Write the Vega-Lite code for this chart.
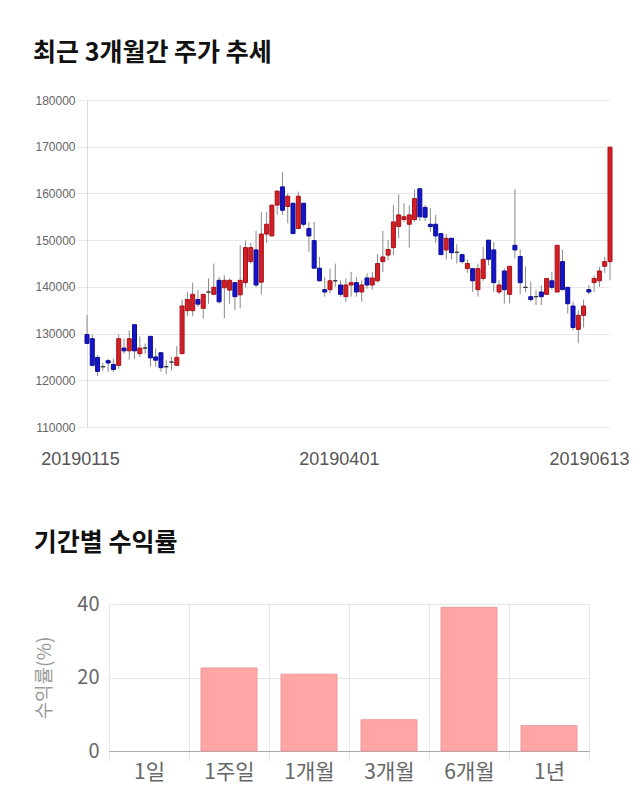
{
  "$schema": "https://vega.github.io/schema/vega-lite/v6.json",
  "background": "white",
  "padding": {"left": 31, "top": 41, "right": 5, "bottom": 5},
  "config": {"view": {"stroke": null}, "font": "Noto Sans CJK KR"},
  "spacing": 63,
  "vconcat": [
    {
      "spacing": 0,
      "hconcat": [
        {"width": 1, "height": 1, "data": {"values": []}, "mark": "rect", "encoding": {}},
        {
          "title": {"text": "최근 3개월간 주가 추세", "anchor": "start", "frame": "bounds", "fontSize": 25, "fontWeight": "bold", "color": "#111111", "offset": 28, "dx": -2},
          "width": 523,
          "height": 327,
          "data": {"values": [
            {"d":"20190115","o":129800,"h":133900,"l":127900,"c":127900},
            {"d":"20190117","o":128900,"h":129800,"l":122900,"c":123200},
            {"d":"20190118","o":124900,"h":125400,"l":120900,"c":121900},
            {"d":"20190121","o":122900,"h":123700,"l":122100,"c":122900},
            {"d":"20190122","o":124200,"h":124600,"l":121800,"c":123700},
            {"d":"20190123","o":123400,"h":124600,"l":121800,"c":122300},
            {"d":"20190124","o":123200,"h":129800,"l":122500,"c":128900},
            {"d":"20190125","o":126900,"h":128900,"l":125700,"c":126300},
            {"d":"20190128","o":126300,"h":130700,"l":124400,"c":128900},
            {"d":"20190129","o":131900,"h":131900,"l":124600,"c":126300},
            {"d":"20190130","o":125700,"h":129400,"l":125000,"c":126900},
            {"d":"20190131","o":126900,"h":127900,"l":125700,"c":126900},
            {"d":"20190201","o":129400,"h":129400,"l":122900,"c":124800},
            {"d":"20190207","o":125000,"h":126800,"l":122900,"c":124300},
            {"d":"20190208","o":125900,"h":125900,"l":121800,"c":122700},
            {"d":"20190211","o":122900,"h":124300,"l":121300,"c":122900},
            {"d":"20190212","o":123900,"h":125000,"l":122100,"c":123900},
            {"d":"20190213","o":123200,"h":127300,"l":123200,"c":124900},
            {"d":"20190214","o":125700,"h":137300,"l":125700,"c":135900},
            {"d":"20190215","o":134900,"h":138900,"l":133700,"c":137300},
            {"d":"20190218","o":134900,"h":140900,"l":133700,"c":138400},
            {"d":"20190219","o":137300,"h":139300,"l":135700,"c":136300},
            {"d":"20190220","o":135400,"h":138400,"l":133200,"c":138400},
            {"d":"20190221","o":138900,"h":141800,"l":136400,"c":138900},
            {"d":"20190222","o":138400,"h":145000,"l":138200,"c":139900},
            {"d":"20190225","o":141400,"h":142100,"l":136400,"c":136800},
            {"d":"20190226","o":139800,"h":142500,"l":133300,"c":141400},
            {"d":"20190227","o":139300,"h":141800,"l":136400,"c":141400},
            {"d":"20190228","o":140900,"h":140900,"l":135000,"c":137900},
            {"d":"20190304","o":138300,"h":148900,"l":135400,"c":141400},
            {"d":"20190305","o":140900,"h":149900,"l":139900,"c":148400},
            {"d":"20190306","o":145400,"h":149400,"l":145000,"c":148400},
            {"d":"20190307","o":147900,"h":152000,"l":139900,"c":140400},
            {"d":"20190308","o":141000,"h":156000,"l":138400,"c":151300},
            {"d":"20190311","o":151300,"h":156000,"l":149400,"c":153400},
            {"d":"20190312","o":150900,"h":157500,"l":150900,"c":157500},
            {"d":"20190313","o":157500,"h":160500,"l":155400,"c":160500},
            {"d":"20190314","o":161400,"h":164600,"l":155400,"c":156400},
            {"d":"20190315","o":157200,"h":160000,"l":153600,"c":159400},
            {"d":"20190318","o":157900,"h":157900,"l":151400,"c":151400},
            {"d":"20190319","o":152500,"h":160400,"l":152500,"c":159400},
            {"d":"20190320","o":157900,"h":157900,"l":152900,"c":153400},
            {"d":"20190321","o":152500,"h":153900,"l":147500,"c":150900},
            {"d":"20190322","o":149900,"h":153900,"l":144000,"c":144000},
            {"d":"20190325","o":144000,"h":146400,"l":141100,"c":141300},
            {"d":"20190326","o":139400,"h":142100,"l":137900,"c":138900},
            {"d":"20190327","o":139400,"h":143900,"l":138600,"c":141300},
            {"d":"20190328","o":141300,"h":145000,"l":140000,"c":141300},
            {"d":"20190329","o":140400,"h":141400,"l":137900,"c":138400},
            {"d":"20190401","o":137900,"h":141800,"l":136800,"c":140400},
            {"d":"20190402","o":140400,"h":143200,"l":137900,"c":140900},
            {"d":"20190403","o":140900,"h":142100,"l":137900,"c":138900},
            {"d":"20190404","o":138900,"h":141400,"l":136800,"c":140400},
            {"d":"20190405","o":141900,"h":142900,"l":139600,"c":140400},
            {"d":"20190408","o":140400,"h":143200,"l":139400,"c":141900},
            {"d":"20190409","o":141300,"h":147000,"l":140900,"c":145000},
            {"d":"20190410","o":145400,"h":152000,"l":143200,"c":146400},
            {"d":"20190411","o":146800,"h":150000,"l":145700,"c":148000},
            {"d":"20190412","o":148400,"h":157500,"l":146800,"c":153900},
            {"d":"20190415","o":152900,"h":159800,"l":150400,"c":155400},
            {"d":"20190416","o":154400,"h":157900,"l":153900,"c":155000},
            {"d":"20190417","o":153400,"h":157500,"l":148400,"c":155400},
            {"d":"20190418","o":154400,"h":160900,"l":153900,"c":158900},
            {"d":"20190419","o":161000,"h":161000,"l":154100,"c":155000},
            {"d":"20190422","o":157000,"h":157500,"l":154100,"c":154900},
            {"d":"20190423","o":153400,"h":156800,"l":151800,"c":152900},
            {"d":"20190424","o":153400,"h":155400,"l":149400,"c":150900},
            {"d":"20190425","o":151400,"h":151400,"l":146800,"c":146900},
            {"d":"20190426","o":147900,"h":151300,"l":145900,"c":150400},
            {"d":"20190429","o":150400,"h":150400,"l":145900,"c":147300},
            {"d":"20190430","o":147400,"h":149100,"l":145000,"c":147400},
            {"d":"20190502","o":146900,"h":146900,"l":145000,"c":145400},
            {"d":"20190503","o":143900,"h":145900,"l":143000,"c":145000},
            {"d":"20190507","o":143900,"h":143900,"l":138900,"c":141300},
            {"d":"20190508","o":139400,"h":145000,"l":137900,"c":143900},
            {"d":"20190509","o":141800,"h":148600,"l":141300,"c":145900},
            {"d":"20190510","o":150000,"h":150000,"l":144600,"c":145900},
            {"d":"20190513","o":147900,"h":149600,"l":138900,"c":140900},
            {"d":"20190514","o":138900,"h":141400,"l":138400,"c":140400},
            {"d":"20190515","o":143400,"h":143900,"l":136400,"c":139400},
            {"d":"20190516","o":138400,"h":144400,"l":136400,"c":144400},
            {"d":"20190517","o":148900,"h":160900,"l":146100,"c":147900},
            {"d":"20190520","o":146500,"h":148000,"l":138400,"c":140900},
            {"d":"20190521","o":139900,"h":144400,"l":138900,"c":139900},
            {"d":"20190522","o":137900,"h":141100,"l":136800,"c":137300},
            {"d":"20190523","o":137900,"h":139300,"l":136100,"c":137900},
            {"d":"20190524","o":138900,"h":140400,"l":136100,"c":137900},
            {"d":"20190527","o":138400,"h":141800,"l":138400,"c":141800},
            {"d":"20190528","o":141300,"h":143200,"l":139400,"c":139900},
            {"d":"20190529","o":138900,"h":148900,"l":138900,"c":148900},
            {"d":"20190530","o":145400,"h":147900,"l":139400,"c":139400},
            {"d":"20190531","o":139900,"h":139900,"l":134300,"c":136400},
            {"d":"20190603","o":135900,"h":136800,"l":130700,"c":131300},
            {"d":"20190604","o":130900,"h":135000,"l":127900,"c":133900},
            {"d":"20190605","o":133900,"h":137300,"l":131300,"c":135900},
            {"d":"20190607","o":139400,"h":140400,"l":138400,"c":138900},
            {"d":"20190610","o":140900,"h":142500,"l":138900,"c":141800},
            {"d":"20190611","o":141300,"h":144300,"l":140000,"c":143400},
            {"d":"20190612","o":144400,"h":146400,"l":143000,"c":145400},
            {"d":"20190613","o":145400,"h":170000,"l":141400,"c":169900}
          ]},
          "encoding": {
            "x": {
              "field": "d", "type": "ordinal", "sort": null,
              "scale": {"type": "point", "padding": 0},
              "axis": {
                "title": null, "values": ["20190115", "20190401", "20190613"],
                "labelAngle": 0, "labelFontSize": 18, "labelColor": "#555555",
                "labelFont": "Liberation Sans",
                "ticks": false, "domain": false, "grid": false, "labelPadding": 23,
                "labelOffset": {"condition": {"test": "datum.value === '20190613'", "value": -21}, "value": -7}
              }
            }
          },
          "layer": [
            {
              "mark": {"type": "rule", "color": "#8a8a8a", "strokeWidth": 1},
              "encoding": {
                "y": {"field": "l", "type": "quantitative",
                  "scale": {"domain": [110000, 180000], "nice": false, "zero": false},
                  "axis": {
                    "title": null, "values": [110000, 120000, 130000, 140000, 150000, 160000, 170000, 180000],
                    "format": "d", "labelFontSize": 12, "labelFont": "Liberation Sans", "labelColor": "#666666",
                    "gridColor": "#e8e8e8", "tickColor": "#e8e8e8", "tickSize": 10, "domainColor": "#dddddd",
                    "labelPadding": 2
                  }
                },
                "y2": {"field": "h"}
              }
            },
            {
              "mark": {"type": "bar", "size": 4, "strokeWidth": 1},
              "encoding": {
                "y": {"field": "o", "type": "quantitative"},
                "y2": {"field": "c"},
                "color": {"condition": [{"test": "datum.c > datum.o", "value": "#d41f26"}, {"test": "datum.c < datum.o", "value": "#1515c8"}], "value": "#333333"},
                "stroke": {"condition": [{"test": "datum.c > datum.o", "value": "#a51217"}, {"test": "datum.c < datum.o", "value": "#0c0c96"}], "value": "#333333"}
              }
            }
          ]
        }
      ]
    },
    {
      "spacing": 1,
      "hconcat": [
        {"width": 1, "height": 1, "data": {"values": []}, "mark": "rect", "encoding": {}},
        {
          "title": {"text": "기간별 수익률", "anchor": "start", "frame": "bounds", "fontSize": 25, "fontWeight": "bold", "color": "#111111", "offset": 38, "dx": -2},
          "width": 480,
          "height": 147,
          "data": {"values": [
            {"p": "1일", "r": 0},
            {"p": "1주일", "r": 22.6},
            {"p": "1개월", "r": 20.9},
            {"p": "3개월", "r": 8.5},
            {"p": "6개월", "r": 39.1},
            {"p": "1년", "r": 6.9}
          ]},
          "mark": {"type": "bar", "color": "#ffa5a5", "stroke": "#ec9a9a", "width": {"band": 0.7}},
          "encoding": {
            "x": {
              "field": "p", "type": "nominal", "sort": null,
              "scale": {"paddingInner": 0, "paddingOuter": 0},
              "axis": {
                "title": null, "labelAngle": 0, "labelFontSize": 21, "labelColor": "#666666",
                "tickBand": "extent", "grid": true, "gridColor": "#e6e6e6", "tickColor": "#e6e6e6", "tickSize": 10,
                "domainColor": "#aaaaaa", "labelPadding": 0
              }
            },
            "y": {
              "field": "r", "type": "quantitative",
              "scale": {"domain": [0, 40], "nice": false},
              "axis": {
                "values": [0, 20, 40], "title": "수익률(%)", "titleFontSize": 19, "titleColor": "#999999",
                "titleFontWeight": "normal", "labelFontSize": 20, "labelColor": "#666666",
                "domain": false, "ticks": false, "gridColor": "#e6e6e6", "labelPadding": 10, "titlePadding": 22
              }
            },
            "strokeWidth": {"condition": {"test": "datum.r == 0", "value": 0}, "value": 1}
          }
        }
      ]
    }
  ]
}
